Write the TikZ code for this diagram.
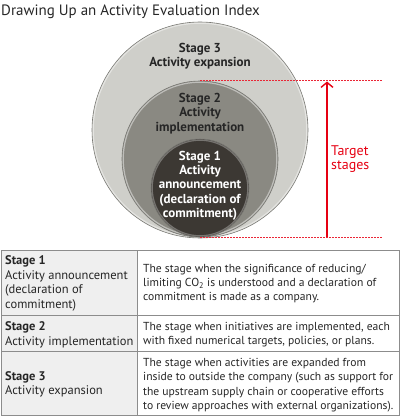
\documentclass[tikz,border=0pt]{standalone}
\usepackage{fontspec}
\setmainfont{PT Sans}
\usetikzlibrary{arrows.meta}
\definecolor{myred}{RGB}{230, 0, 18}
\definecolor{ringlight}{RGB}{207, 207, 202}
\definecolor{ringmid}{RGB}{138, 137, 130}
\definecolor{ringdark}{RGB}{60, 56, 51}
\definecolor{myedge}{RGB}{120, 120, 115}
\definecolor{cellgray}{RGB}{239, 239, 239}
\definecolor{cellline}{RGB}{140, 140, 140}
\tikzset{
  stagelabel/.style={align=center, font=\fontsize{13}{14.3}\selectfont\bfseries},
  celltext/.style={anchor=west, align=left, font=\fontsize{12.5}{14.4}\selectfont, text=black!85, inner sep=0pt},
  desctext/.style={celltext, font=\fontsize{11.6}{14.4}\selectfont},
  dotline/.style={myred!85, line width=1pt, dash pattern=on 1.6pt off 1.4pt},
  rim/.style={draw=white, draw opacity=0.45, line width=1.2pt},
}

\begin{document}
\begin{tikzpicture}[x=1pt, y=-1pt]
\useasboundingbox (0,0) rectangle (400,417);

 %title
 \node[anchor=west, inner sep=0pt, font=\fontsize{15}{17}\selectfont, text=black!85] (title) at (1,12) {Drawing Up an Activity Evaluation Index};

 %circles
 \draw[fill=ringlight, draw=myedge, line width=0.6pt] (200,130) circle (108);
 \draw[rim] (200,130) circle (106.8);
 \draw[fill=ringmid, draw=myedge, line width=0.6pt] (200,159) circle (78);
 \draw[rim] (200,159) circle (76.8);
 \draw[fill=ringdark, draw=myedge, line width=0.6pt] (200,188) circle (49);
 \draw[rim, draw opacity=0.3] (200,188) circle (47.8);

 \node[stagelabel, text=black!85] (stage3) at (200,56) {Stage 3\\Activity expansion};
 \node[stagelabel, text=black!85] (stage2) at (200,113.5) {Stage 2\\Activity\\implementation};
 \node[stagelabel, text=white] (stage1) at (200,185.5) {Stage 1\\Activity\\announcement\\(declaration of\\commitment)};

 %target stages
 \coordinate (topleft) at (200,81);
 \coordinate (topright) at (382,81);
 \coordinate (botleft) at (200,237);
 \coordinate (botright) at (382,237);
 \coordinate (arrowfoot) at (327,237);
 \coordinate (arrowtip) at (327,81.5);
 \draw[dotline] (topleft) -- (topright);
 \draw[dotline] (botleft) -- (botright);
 \draw[-{Straight Barb[length=5pt, width=12pt, line width=1.4pt]}, myred, line width=2pt] (arrowfoot) -- (arrowtip);
 \node[anchor=west, align=left, inner sep=0pt, text=myred, font=\fontsize{14}{14.4}\selectfont] (target) at (331,159) {Target\\stages};

 %table
 \fill[cellgray] (1,250) rectangle (137,415);
 \draw[cellline, line width=1pt] (1,250) rectangle (399,415);
 \draw[cellline, line width=1pt] (137,250) -- (137,415);
 \draw[cellline, line width=1pt] (1,315) -- (399,315);
 \draw[cellline, line width=1pt] (1,351) -- (399,351);

 \node[celltext] (name1) at (5,283.5) {\textbf{Stage 1}\\Activity announcement\\(declaration of\\commitment)};
 \node[celltext] (name2) at (5,334.7) {\textbf{Stage 2}\\Activity implementation};
 \node[celltext] (name3) at (5,384.5) {\textbf{Stage 3}\\Activity expansion};

 \node[desctext] (text1) at (143,283.5) {The stage when the significance of reducing/\\limiting CO\textsubscript{2} is understood and a declaration of\\commitment is made as a company.};
 \node[desctext] (text2) at (143,334.7) {The stage when initiatives are implemented, each\\with fixed numerical targets, policies, or plans.};
 \node[desctext] (text3) at (143,385) {The stage when activities are expanded from\\inside to outside the company (such as support for\\the upstream supply chain or cooperative efforts\\to review approaches with external organizations).};
\end{tikzpicture}
\end{document}
